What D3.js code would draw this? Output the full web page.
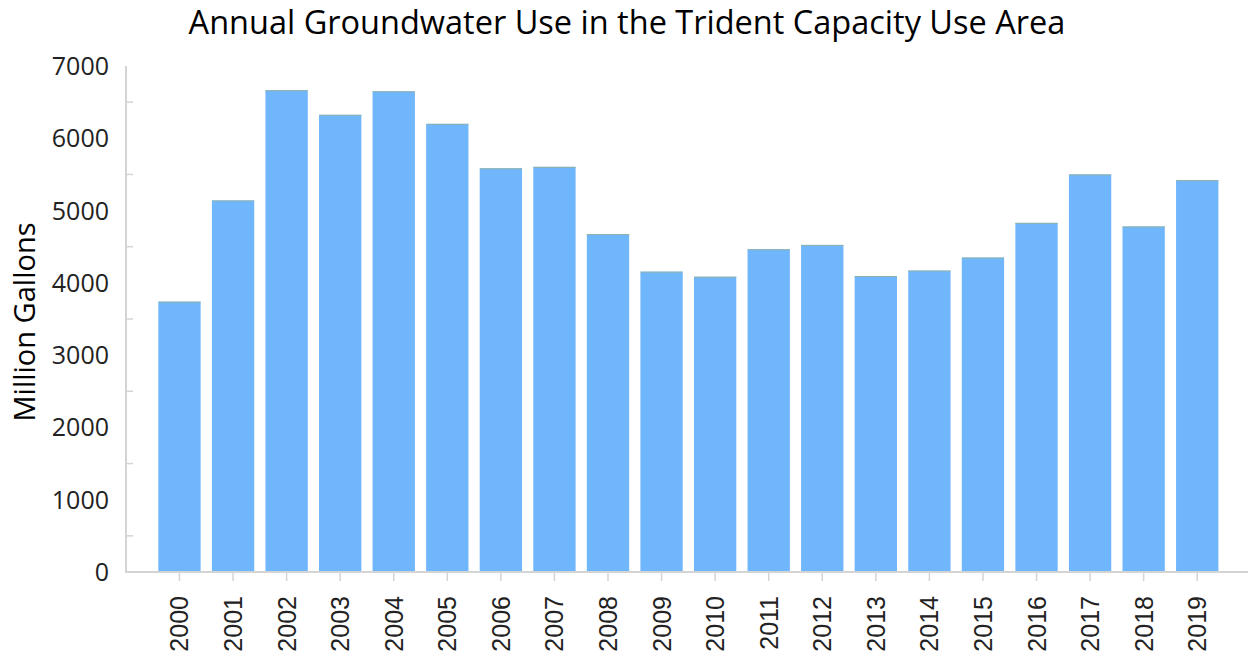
<!DOCTYPE html>
<html>
<head>
<meta charset="utf-8">
<script src="https://cdn.jsdelivr.net/npm/d3@7"></script>
<style>
  body { margin: 0; background: #fff; }
</style>
</head>
<body>
<script>
const width = 1250;
const height = 656;

const years = ['2000','2001','2002','2003','2004','2005','2006','2007','2008','2009',
               '2010','2011','2012','2013','2014','2015','2016','2017','2018','2019'];
const gallons = [3740, 5140, 6665, 6325, 6650, 6200, 5585, 5605, 4675, 4155,
                 4085, 4465, 4525, 4095, 4170, 4350, 4830, 5500, 4780, 5420];
const yTicks = [0, 1000, 2000, 3000, 4000, 5000, 6000, 7000];
const yMinor = [500, 1500, 2500, 3500, 4500, 5500, 6500];

const svg = d3.select("body")
    .append("svg")
    .attr("width", width)
    .attr("height", height);

const x = d3.scaleBand()
    .domain(years)
    .range([152.7, 1224])
    .paddingInner(0.21)
    .paddingOuter(0.105);

const y = d3.scaleLinear()
    .domain([0, 7000])
    .range([572, 66]);

// title
svg.append("text")
    .attr("x", 627)
    .attr("y", 34)
    .attr("text-anchor", "middle")
    .style("font-family", "Open Sans")
    .style("font-size", "32.5px")
    .style("fill", "#000")
    .text("Annual Groundwater Use in the Trident Capacity Use Area");

// bars
svg.selectAll("rect.bar")
    .data(gallons)
    .enter()
    .append("rect")
    .attr("class", "bar")
    .attr("x", (d, i) => x(years[i]))
    .attr("y", d => y(d))
    .attr("width", x.bandwidth())
    .attr("height", d => y(0) - y(d))
    .style("fill", "#70b6fd");

// thin top edge
svg.selectAll("line.top")
    .data(gallons)
    .enter()
    .append("line")
    .attr("class", "top")
    .attr("x1", (d, i) => x(years[i]))
    .attr("x2", (d, i) => x(years[i]) + x.bandwidth())
    .attr("y1", d => y(d) + 0.5)
    .attr("y2", d => y(d) + 0.5)
    .style("stroke", "#8fb3a8")
    .style("stroke-width", 1);

const axisColor = "#d4d4d4";

// y axis line + minor ticks pointing inward
svg.append("line")
    .attr("x1", 126).attr("x2", 126)
    .attr("y1", y(7000)).attr("y2", y(0))
    .style("stroke", axisColor).style("stroke-width", 2);

svg.selectAll("line.ym")
    .data(yMinor)
    .enter()
    .append("line")
    .attr("x1", 126).attr("x2", 133)
    .attr("y1", d => y(d)).attr("y2", d => y(d))
    .style("stroke", axisColor).style("stroke-width", 1.5);

svg.selectAll("text.yl")
    .data(yTicks)
    .enter()
    .append("text")
    .attr("x", 109)
    .attr("y", d => y(d))
    .attr("dy", "0.36em")
    .attr("text-anchor", "end")
    .style("font-family", "Open Sans")
    .style("font-size", "25px")
    .style("fill", "#222")
    .text(d => d);

// x axis
svg.append("line")
    .attr("x1", 125).attr("x2", 1248)
    .attr("y1", y(0)).attr("y2", y(0))
    .style("stroke", axisColor).style("stroke-width", 2);

svg.selectAll("line.xt")
    .data(years)
    .enter()
    .append("line")
    .attr("x1", d => x(d) + x.bandwidth() / 2)
    .attr("x2", d => x(d) + x.bandwidth() / 2)
    .attr("y1", y(0)).attr("y2", y(0) + 9)
    .style("stroke", axisColor).style("stroke-width", 1.5);

svg.selectAll("text.xl")
    .data(years)
    .enter()
    .append("text")
    .attr("transform", d => `translate(${x(d) + x.bandwidth() / 2},${y(0) + 24}) rotate(-90)`)
    .attr("dy", "0.36em")
    .attr("text-anchor", "end")
    .style("font-family", "Liberation Sans")
    .style("font-size", "25px")
    .style("fill", "#222")
    .text(d => d);

// y axis label
svg.append("text")
    .attr("transform", "translate(25,322) rotate(-90)")
    .attr("dy", "0.36em")
    .attr("text-anchor", "middle")
    .style("font-family", "Open Sans")
    .style("font-size", "29px")
    .style("fill", "#000")
    .text("Million Gallons");
</script>
</body>
</html>
